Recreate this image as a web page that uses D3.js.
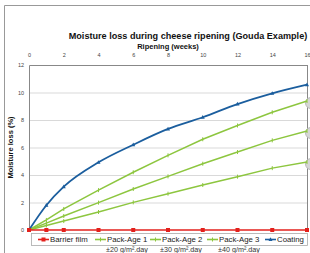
<!DOCTYPE html>
<html><head><meta charset="utf-8">
<script src="https://cdn.jsdelivr.net/npm/d3@7"></script>
<style>body{margin:0;background:#fff}svg{display:block;font-family:"Liberation Sans",Arial,sans-serif}</style>
</head><body><svg id="c" width="310" height="253"></svg>
<script>
const weeks = [0,1,2,4,6,8,10,12,14,16];
const barrier = [0,0,0,0,0,0,0,0,0,0];
const pack1 = [0,0.33,0.65,1.31,2.01,2.64,3.27,3.88,4.5,4.94];
const pack2 = [0,0.5,1.02,1.99,2.98,3.9,4.82,5.67,6.52,7.2];
const pack3 = [0,0.73,1.53,2.9,4.2,5.43,6.6,7.6,8.56,9.38];
const coating = [0,1.8,3.15,4.92,6.2,7.35,8.2,9.16,9.94,10.57];
const xTicks = [0,2,4,6,8,10,12,14,16];
const yTicks = [0,2,4,6,8,10,12];
const legendNames = ["Barrier film","Pack-Age 1","Pack-Age 2","Pack-Age 3","Coating"];
const subLabels = ["±20 g/m².day","±30 g/m².day","±40 g/m².day"];

const svg = d3.select("#c");
const m = {l:29, r:307, t:65, b:230};
const x = d3.scaleLinear().domain([0,16]).range([m.l,m.r]);
const y = d3.scaleLinear().domain([0,12]).range([m.b,m.t]);

// outer frame
svg.append("path").attr("d","M4.5,253 V5.5 H310").attr("fill","none").attr("stroke","#999").attr("stroke-width",1);

// title
svg.append("text").attr("x",188).attr("y",39).attr("text-anchor","middle")
  .attr("font-size",9.1).attr("font-weight","bold").attr("fill","#111")
  .text("Moisture loss during cheese ripening (Gouda Example)");
svg.append("text").attr("x",168).attr("y",49).attr("text-anchor","middle")
  .attr("font-size",7.5).attr("font-weight","bold").attr("fill","#111").text("Ripening (weeks)");

// gridlines
svg.append("g").selectAll("line").data(yTicks.filter(d=>d>0&&d<12)).join("line")
  .attr("x1",m.l).attr("x2",m.r).attr("y1",d=>y(d)+0.5).attr("y2",d=>y(d)+0.5)
  .attr("stroke","#d9d9d9").attr("stroke-width",1);

// axes
const xa = svg.append("g").attr("transform",`translate(0,${m.t})`)
  .call(d3.axisTop(x).tickValues(xTicks).tickSize(0).tickPadding(8));
xa.select(".domain").attr("stroke","#888");
xa.selectAll("text").attr("font-size",5.5).attr("fill","#444").attr("font-family","Liberation Sans, Arial");
const ya = svg.append("g").attr("transform",`translate(${m.l},0)`)
  .call(d3.axisLeft(y).tickValues(yTicks).tickSize(0).tickPadding(5));
ya.select(".domain").attr("stroke","#888");
ya.selectAll("text").attr("font-size",5.5).attr("fill","#444").attr("font-family","Liberation Sans, Arial");
svg.append("line").attr("x1",m.r+0.5).attr("x2",m.r+0.5).attr("y1",m.t).attr("y2",m.b).attr("stroke","#888");

svg.append("text").attr("transform",`translate(13,${(m.t+m.b)/2}) rotate(-90)`).attr("text-anchor","middle")
  .attr("font-size",7.5).attr("font-weight","bold").attr("fill","#111").text("Moisture loss (%)");

const green = "#8dc63f", blue = "#1b5e9e", red = "#e3211c";
const series = [
  {v:pack1,c:green,mk:"plus"},
  {v:pack2,c:green,mk:"plus"},
  {v:pack3,c:green,mk:"plus"},
  {v:coating,c:blue,mk:"tri"},
  {v:barrier,c:red,mk:"sq"}
];
const line = d3.line().x((d,i)=>x(weeks[i])).y(d=>y(d));
const lineC = d3.line().x((d,i)=>x(weeks[i])).y(d=>y(d)).curve(d3.curveMonotoneX);

// data label bubbles at right
svg.append("g").selectAll("circle").data([pack3[9],pack2[9],pack1[9]]).join("circle")
  .attr("cx",x(16)+4).attr("cy",d=>y(d)+2).attr("r",5.5).attr("fill","#d6d6d6").attr("stroke","#bbb");

function marker(g, s){
  const pts = s.v.map((d,i)=>[x(weeks[i]),y(d)]);
  if(s.mk==="sq") g.selectAll("rect.mk").data(pts).join("rect").attr("class","mk").attr("x",p=>p[0]-2).attr("y",p=>p[1]-2).attr("width",4).attr("height",4).attr("fill",s.c);
  else if(s.mk==="tri") g.selectAll("path.mk").data(pts.slice(1)).join("path").attr("class","mk").attr("d",p=>`M${p[0]},${p[1]-2.2}L${p[0]+2},${p[1]+1.5}L${p[0]-2},${p[1]+1.5}Z`).attr("fill",s.c);
  else g.selectAll("path.mk").data(pts.slice(1)).join("path").attr("class","mk").attr("d",p=>`M${p[0]},${p[1]-2}V${p[1]+2}`).attr("stroke",s.c).attr("stroke-width",1);
}
series.forEach(s=>{
  const g = svg.append("g");
  g.append("path").attr("class","ln").attr("d",(s.mk==="tri"?lineC:line)(s.v)).attr("fill","none").attr("stroke",s.c).attr("stroke-width",s.mk==="tri"?1.8:1.5);
  marker(g,s);
});

// legend
const lg = svg.append("g");
lg.append("rect").attr("x",31.5).attr("y",233.5).attr("width",276).attr("height",12).attr("fill","#fff").attr("stroke","#aaa").attr("stroke-width",0.8);
const lx = [38,95,150,207,265];
const lcol = [red,green,green,green,blue];
const lmk = ["sq","plus","plus","plus","tri"];
legendNames.forEach((n,i)=>{
  const cy = 239.5;
  lg.append("line").attr("x1",lx[i]).attr("x2",lx[i]+11).attr("y1",cy).attr("y2",cy).attr("stroke",lcol[i]).attr("stroke-width",1.6);
  const cx = lx[i]+5.5;
  if(lmk[i]==="sq") lg.append("rect").attr("x",cx-2).attr("y",cy-2).attr("width",4).attr("height",4).attr("fill",lcol[i]);
  else if(lmk[i]==="tri") lg.append("path").attr("d",`M${cx},${cy-2.2}L${cx+2},${cy+1.5}L${cx-2},${cy+1.5}Z`).attr("fill",lcol[i]);
  else lg.append("path").attr("d",`M${cx},${cy-2}V${cy+2}`).attr("stroke",lcol[i]);
  lg.append("text").attr("x",lx[i]+12).attr("y",cy+2.8).attr("font-size",7.8).attr("fill","#222").text(n);
});
const sx = [127,181,239];
subLabels.forEach((t,i)=>{
  lg.append("text").attr("x",sx[i]).attr("y",252).attr("text-anchor","middle").attr("font-size",7.2).attr("fill","#333").text(t);
});
</script></body></html>
